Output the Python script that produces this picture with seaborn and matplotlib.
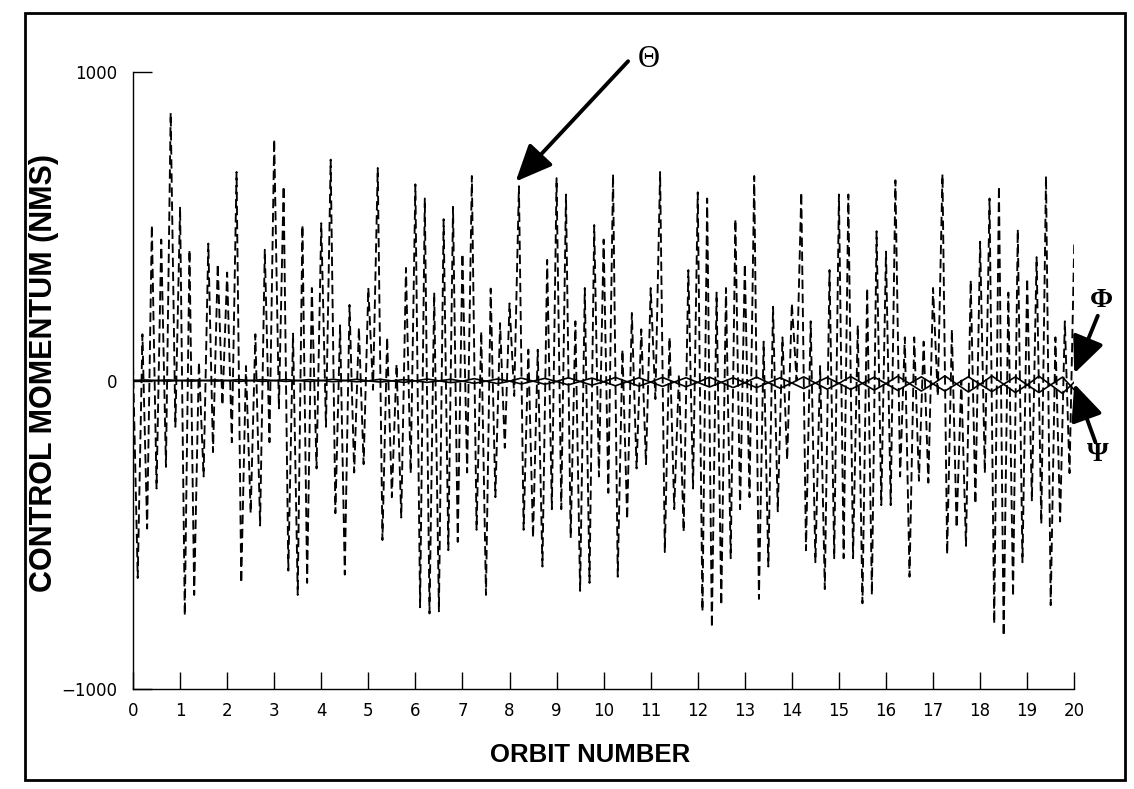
import numpy as np
import pandas as pd
import matplotlib
matplotlib.use("Agg")
import matplotlib.pyplot as plt
import seaborn as sns
from matplotlib.patches import Rectangle

# ---------------- data ----------------
# Theta control momentum: alternating local max / min, one every 0.1 orbit
theta = [
    50, -640, 150, -480, 504, -350, 457, -280, 868, -150,
    563, -762, 424, -695, 60, -311, 444, -232, 378, -80,
    350, -200, 676, -656, 47, -430, 150, -470, 424, -200,
    782, -90, 630, -616, 152, -695, 504, -656, 300, -285,
    510, -150, 716, -430, 179, -629, 245, -298, 172, -271,
    300, -30, 689, -517, 140, -378, 53, -444, 365, -300,
    636, -735, 590, -755, 285, -748, 523, -550, 563, -523,
    411, -298, 663, -484, 159, -695, 298, -378, 186, -218,
    250, -50, 630, -484, 100, -510, 100, -603, 391, -417,
    656, -417, 603, -510, 192, -682, 300, -656, 504, -311,
    457, -364, 669, -636, 100, -450, 219, -285, 166, -271,
    300, -60, 676, -556, 140, -417, 20, -490, 358, -350,
    610, -748, 590, -801, 285, -728, 300, -576, 523, -417,
    378, -378, 663, -708, 126, -603, 239, -424, 140, -258,
    250, 0, 610, -550, 192, -589, 47, -676, 358, -576,
    603, -576, 603, -576, 179, -722, 300, -695, 484, -404,
    418, -404, 649, -311, 140, -636, 140, -325, 126, -331,
    300, -50, 669, -563, 166, -477, 0, -536, 325, -400,
    450, -300, 590, -788, 630, -828, 285, -700, 490, -589,
    331, -391, 400, -464, 663, -728, 140, -457, 192, -300,
    444,
]

# Phi and Psi control momentum, one value every 0.25 orbit
phi = [
    0, 2, 0, -2,   0, 2, 0, -2,   0, 3, 0, -3,   0, 3, 0, -3,
    0, 4, 0, -4,   -1, 4, -1, -6,   -1, 5, -1, -7,   -2, 6, -2, -10,
    -2, 8, -2, -12,   -3, 9, -3, -15,   -4, 10, -4, -18,   -5, 10, -5, -20,
    -6, 11, -6, -23,   -7, 11, -7, -25,   -8, 12, -8, -28,   -9, 13, -9, -31,
    -10, 14, -10, -34,   -11, 15, -11, -37,   -12, 15, -12, -39,   -14, 14, -14, -42,
    -5,
]
psi = [
    0, -2, 0, 2,   0, -2, 0, 2,   0, -3, 0, 3,   0, -3, 0, 3,
    0, -4, 0, 4,   -1, -5, -1, 3,   -1, -6, -1, 4,   -2, -9, -2, 5,
    -2, -11, -2, 7,   -3, -14, -3, 8,   -4, -17, -4, 9,   -5, -19, -5, 9,
    -6, -21, -6, 9,   -7, -23, -7, 9,   -8, -26, -8, 10,   -9, -29, -9, 11,
    -10, -32, -10, 12,   -11, -34, -11, 12,   -12, -36, -12, 12,   -14, -39, -14, 11,
    -30,
]

x_ticks = list(range(21))
x_tick_labels = [str(v) for v in x_ticks]
y_ticks = [-1000, 0, 1000]
y_tick_labels = ["\u22121000", "0", "1000"]

theta_orbit = np.arange(len(theta)) * 0.1
att_orbit = np.arange(len(phi)) * 0.25

df_theta = pd.DataFrame({"orbit": theta_orbit, "momentum": theta})
df_phi = pd.DataFrame({"orbit": att_orbit, "momentum": phi})
df_psi = pd.DataFrame({"orbit": att_orbit, "momentum": psi})

# ---------------- style ----------------
sns.set_theme(style="ticks")
plt.rcParams["font.family"] = ["DejaVu Sans"]
plt.rcParams["text.color"] = "black"
plt.rcParams["axes.labelcolor"] = "black"

fig = plt.figure(figsize=(11.34, 7.89), dpi=100)
ax = fig.add_axes([0.1173, 0.1267, 0.830, 0.782])

sns.lineplot(data=df_theta, x="orbit", y="momentum", ax=ax, color="black",
             lw=1.35, linestyle=(0, (5, 2.5)), estimator=None, sort=False)
sns.lineplot(data=df_phi, x="orbit", y="momentum", ax=ax, color="black",
             lw=1.2, estimator=None, sort=False)
sns.lineplot(data=df_psi, x="orbit", y="momentum", ax=ax, color="black",
             lw=1.2, estimator=None, sort=False)

ax.set_xlim(0, 20)
ax.set_ylim(-1000, 1000)
ax.set_xticks(x_ticks)
ax.set_xticklabels(x_tick_labels)
ax.set_yticks(y_ticks)
ax.set_yticklabels(y_tick_labels)

sns.despine(ax=ax)
for s in ["left", "bottom"]:
    ax.spines[s].set_color("black")
    ax.spines[s].set_linewidth(1.0)

ax.tick_params(axis="x", direction="in", length=12, width=1.0, pad=9,
               labelsize=12, colors="black")
ax.tick_params(axis="y", direction="in", length=14, width=1.0, pad=11,
               labelsize=12, colors="black")

ax.set_xlabel("ORBIT NUMBER", family="Liberation Sans", weight="bold",
              size=18.5, color="black")
ax.set_ylabel("CONTROL MOMENTUM (NMS)", family="Liberation Sans", weight="bold",
              size=22, color="black")
ax.xaxis.set_label_coords(0.486, -0.088)
ax.yaxis.set_label_coords(-0.079, 0.512)

# annotations
arrow_kw = dict(arrowstyle="-|>,head_length=0.5,head_width=0.22",
                mutation_scale=45, lw=2.8, color="black", shrinkA=0, shrinkB=0)
ax.annotate("", xy=(8.13, 645), xytext=(10.52, 1035),
            arrowprops=arrow_kw, annotation_clip=False)
ax.text(10.95, 1040, "\u0398", family="Liberation Serif", size=22,
        ha="center", va="center", clip_on=False)

ax.annotate("", xy=(20.0, 23), xytext=(20.5, 210),
            arrowprops=arrow_kw, annotation_clip=False)
ax.text(20.57, 258, "\u03A6", family="Liberation Serif", weight="bold", size=20,
        ha="center", va="center", clip_on=False)

ax.annotate("", xy=(20.0, -10), xytext=(20.45, -200),
            arrowprops=arrow_kw, annotation_clip=False)
ax.text(20.5, -240, "\u03A8", family="Liberation Serif", weight="bold", size=20,
        ha="center", va="center", clip_on=False)

# page frame
fig.add_artist(Rectangle((0.022, 0.012), 0.970, 0.972, transform=fig.transFigure,
                         fill=False, lw=2.0, ec="black"))

fig.savefig("out.png", dpi=100, facecolor="white")
